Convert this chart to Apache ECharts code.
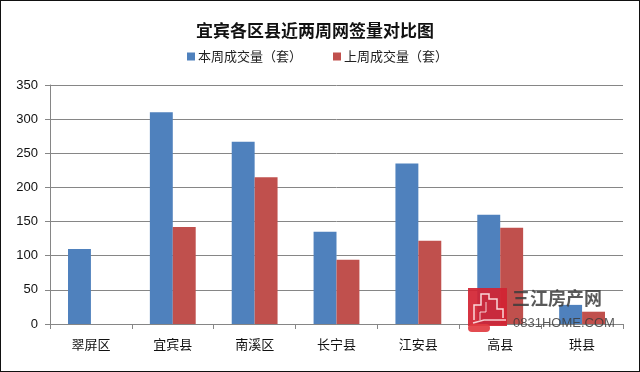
<!DOCTYPE html>
<html><head><meta charset="utf-8">
<style>html,body{margin:0;padding:0;background:#fff}#c{width:640px;height:372px;box-sizing:border-box}#f{position:absolute;left:0;top:0;width:640px;height:372px;box-sizing:border-box;border:1px solid #111;pointer-events:none}</style>
<script src="https://cdn.jsdelivr.net/npm/echarts@6/dist/echarts.min.js"></script>
</head><body><div id="c"></div><div id="f"></div>
<script>
const titleText = '宜宾各区县近两周网签量对比图';
const categories = ['翠屏区','宜宾县','南溪区','长宁县','江安县','高县','珙县'];
const thisWeekName = '本周成交量（套）';
const lastWeekName = '上周成交量（套）';
const thisWeek = [110,310,267,135,235,160,28];
const lastWeek = [0,142,215,94,122,141,18];
const font = '"Noto Sans CJK SC","Liberation Sans",sans-serif';
const chart = echarts.init(document.getElementById('c'), null, {renderer:'canvas'});
const Z = 100;
chart.setOption({
  animation:false,
  backgroundColor:'#fff',
  title:{text:titleText,left:191,top:17,itemGap:0,textStyle:{fontFamily:font,fontSize:17,fontWeight:'bold',color:'#111'}},
  legend:{top:45,left:182,itemGap:31,itemWidth:8,itemHeight:8,icon:'rect',
    data:[thisWeekName,lastWeekName],
    textStyle:{fontFamily:font,fontSize:13,color:'#222',padding:[0,0,0,-2]}},
  grid:{left:50,right:17,top:85,bottom:48,containLabel:false},
  xAxis:{type:'category',data:categories,
    axisLine:{lineStyle:{color:'#868686',width:1}},
    axisTick:{show:true,length:5,alignWithLabel:false,lineStyle:{color:'#868686'}},
    axisLabel:{fontFamily:font,fontSize:13,color:'#111',margin:14}},
  yAxis:{type:'value',min:0,max:350,interval:50,
    axisLine:{show:true,lineStyle:{color:'#868686'}},
    axisTick:{show:true,length:5,lineStyle:{color:'#868686'}},
    splitLine:{lineStyle:{color:'#868686',width:1}},
    axisLabel:{fontFamily:'"Liberation Sans",sans-serif',fontSize:13,color:'#111',margin:12}},
  series:[
    {name:thisWeekName,type:'bar',data:thisWeek,barGap:'0%',barCategoryGap:'44%',itemStyle:{color:'#4f81bd'}},
    {name:lastWeekName,type:'bar',data:lastWeek,itemStyle:{color:'#c0504d'}}
  ],
  graphic:[
    {type:'rect',z:Z,silent:true,shape:{x:468,y:288,width:39,height:38},style:{fill:'rgba(210,35,50,0.92)'}},
    {type:'rect',z:Z,silent:true,shape:{x:468,y:324,width:22,height:8,r:4},style:{fill:'rgba(225,60,65,0.92)'}},
    {type:'polyline',z:Z+1,silent:true,shape:{points:[[474,320],[474,305],[481,305],[481,294],[489,294],[489,299],[497,299],[497,309],[503,309],[503,318]]},style:{stroke:'rgba(255,235,235,0.9)',lineWidth:1.5,fill:null}},
    {type:'polyline',z:Z+1,silent:true,shape:{points:[[480,320],[480,312],[486,312],[486,302]]},style:{stroke:'rgba(255,235,235,0.85)',lineWidth:1,fill:null}},
    {type:'polyline',z:Z+1,silent:true,shape:{points:[[473,323],[484,320],[506,320]]},style:{stroke:'rgba(255,235,235,0.85)',lineWidth:1.5,fill:null}},
    {type:'text',z:Z,silent:true,style:{x:512,y:289,text:'三江房产网',fill:'rgba(60,60,60,0.85)',font:'bold 18px "Noto Sans CJK SC"',textVerticalAlign:'top'}},
    {type:'text',z:Z,silent:true,style:{x:513,y:317,text:'0831HOME.COM',fill:'rgba(60,60,60,0.85)',font:'13px "Liberation Sans"',textVerticalAlign:'top'}}
  ]
});
</script></body></html>
